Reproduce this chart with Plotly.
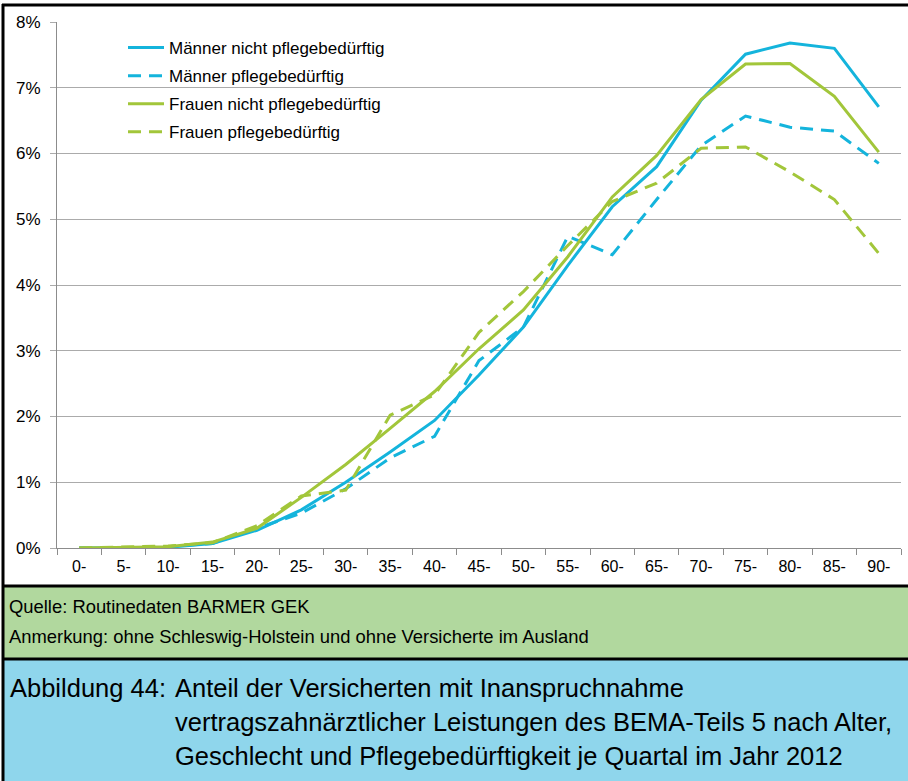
import plotly.graph_objects as go

# Age groups (5-year bands)
ages = ["0-", "5-", "10-", "15-", "20-", "25-", "30-", "35-", "40-", "45-",
        "50-", "55-", "60-", "65-", "70-", "75-", "80-", "85-", "90-"]

# Share of insured persons (%) per quarter
maenner_nicht_pflege = [0.0, 0.0, 0.01, 0.07, 0.27, 0.58, 1.0, 1.46, 1.94, 2.63,
                        3.36, 4.3, 5.19, 5.8, 6.81, 7.51, 7.68, 7.6, 6.71]
maenner_pflege = [0.0, 0.0, 0.02, 0.07, 0.3, 0.53, 0.9, 1.37, 1.7, 2.85,
                  3.36, 4.74, 4.46, 5.3, 6.12, 6.57, 6.4, 6.34, 5.85]
frauen_nicht_pflege = [0.0, 0.01, 0.02, 0.09, 0.3, 0.77, 1.27, 1.82, 2.38, 3.03,
                       3.62, 4.43, 5.34, 5.97, 6.82, 7.36, 7.37, 6.87, 6.02]
frauen_pflege = [0.0, 0.01, 0.03, 0.08, 0.34, 0.79, 0.88, 2.02, 2.33, 3.28,
                 3.9, 4.6, 5.27, 5.55, 6.08, 6.1, 5.72, 5.3, 4.48]

y_ticks = [0, 1, 2, 3, 4, 5, 6, 7, 8]
y_tick_labels = [f"{v}%" for v in y_ticks]

series_names = ["Männer nicht pflegebedürftig", "Männer pflegebedürftig",
                "Frauen nicht pflegebedürftig", "Frauen pflegebedürftig"]

BLUE = "#14B4DC"
GREEN = "#A2C63A"
DASH = "13px,8px"

W, H = 908, 781
ML, MR, MT, MB = 57, 7, 22, 233
PW, PH = W - ML - MR, H - MT - MB


def px_x(px):
    return (px - ML) / PW


def px_y(py):
    return (H - MB - py) / PH


fig = go.Figure()
styles = [(BLUE, "solid"), (BLUE, DASH), (GREEN, "solid"), (GREEN, DASH)]
data = [maenner_nicht_pflege, maenner_pflege, frauen_nicht_pflege, frauen_pflege]
for name, values, (color, dash) in zip(series_names, data, styles):
    fig.add_trace(go.Scatter(
        x=ages, y=values, name=name, mode="lines", legendgroup=name,
        line=dict(color=color, width=3, dash=dash),
    ))

fig.update_layout(
    width=W, height=H,
    margin=dict(l=ML, r=MR, t=MT, b=MB, pad=0),
    paper_bgcolor="white", plot_bgcolor="white",
    font=dict(family="Liberation Sans, Arial, sans-serif", color="black", size=16),
    showlegend=True,
    legend=dict(x=px_x(123), y=px_y(30), xanchor="left", yanchor="top",
                bgcolor="rgba(0,0,0,0)", font=dict(size=17),
                tracegroupgap=3, itemwidth=36),
    xaxis=dict(type="category", range=[-0.5, len(ages) - 0.5], tickson="boundaries",
               ticks="outside", ticklen=6, tickcolor="#8C8C8C", showline=True,
               linecolor="#8C8C8C", linewidth=1, showgrid=False,
               tickfont=dict(size=16), ticklabelstandoff=4),
    yaxis=dict(range=[0, 8], tickvals=y_ticks, ticktext=y_tick_labels, ticks="outside",
               ticklen=6, tickcolor="#ABABAB", showline=True, linecolor="#8C8C8C",
               linewidth=1, showgrid=True, gridcolor="#ABABAB", gridwidth=1.3,
               zeroline=False, tickfont=dict(size=17), ticklabelstandoff=6),
)

shapes = [
    # source box and caption box
    dict(type="rect", xref="paper", yref="paper", x0=px_x(3), x1=px_x(W + 2),
         y0=px_y(586), y1=px_y(659), fillcolor="#B1D89E", line=dict(width=0), layer="below"),
    dict(type="rect", xref="paper", yref="paper", x0=px_x(3), x1=px_x(W + 2),
         y0=px_y(659), y1=px_y(H + 2), fillcolor="#8FD6EC", line=dict(width=0), layer="below"),
    # frame lines
    dict(type="line", xref="paper", yref="paper", x0=px_x(2), x1=px_x(W + 2),
         y0=px_y(5), y1=px_y(5), line=dict(color="black", width=3)),
    dict(type="line", xref="paper", yref="paper", x0=px_x(3), x1=px_x(3),
         y0=px_y(4), y1=px_y(H + 2), line=dict(color="black", width=3)),
    dict(type="line", xref="paper", yref="paper", x0=px_x(2), x1=px_x(W + 2),
         y0=px_y(586), y1=px_y(586), line=dict(color="black", width=3)),
    dict(type="line", xref="paper", yref="paper", x0=px_x(2), x1=px_x(W + 2),
         y0=px_y(659), y1=px_y(659), line=dict(color="black", width=3)),
]

note_font = dict(family="Liberation Sans, Arial, sans-serif", size=18.4, color="black")
cap_font = dict(family="Liberation Sans, Arial, sans-serif", size=25.5, color="black")

annotations = [
    dict(text="Quelle: Routinedaten BARMER GEK", x=px_x(7), y=px_y(606), font=note_font),
    dict(text="Anmerkung: ohne Schleswig-Holstein und ohne Versicherte im Ausland",
         x=px_x(7), y=px_y(636), font=note_font),
    dict(text="Abbildung 44:", x=px_x(8), y=px_y(688), font=cap_font),
    dict(text="Anteil der Versicherten mit Inanspruchnahme", x=px_x(173), y=px_y(688), font=cap_font),
    dict(text="vertragszahnärztlicher Leistungen des BEMA-Teils 5 nach Alter,",
         x=px_x(173), y=px_y(722), font=cap_font),
    dict(text="Geschlecht und Pflegebedürftigkeit je Quartal im Jahr 2012",
         x=px_x(173), y=px_y(756), font=cap_font),
]
for a in annotations:
    a.update(xref="paper", yref="paper", xanchor="left", yanchor="middle",
             showarrow=False, align="left")

fig.update_layout(shapes=shapes, annotations=annotations)

fig.write_html("out.html")
